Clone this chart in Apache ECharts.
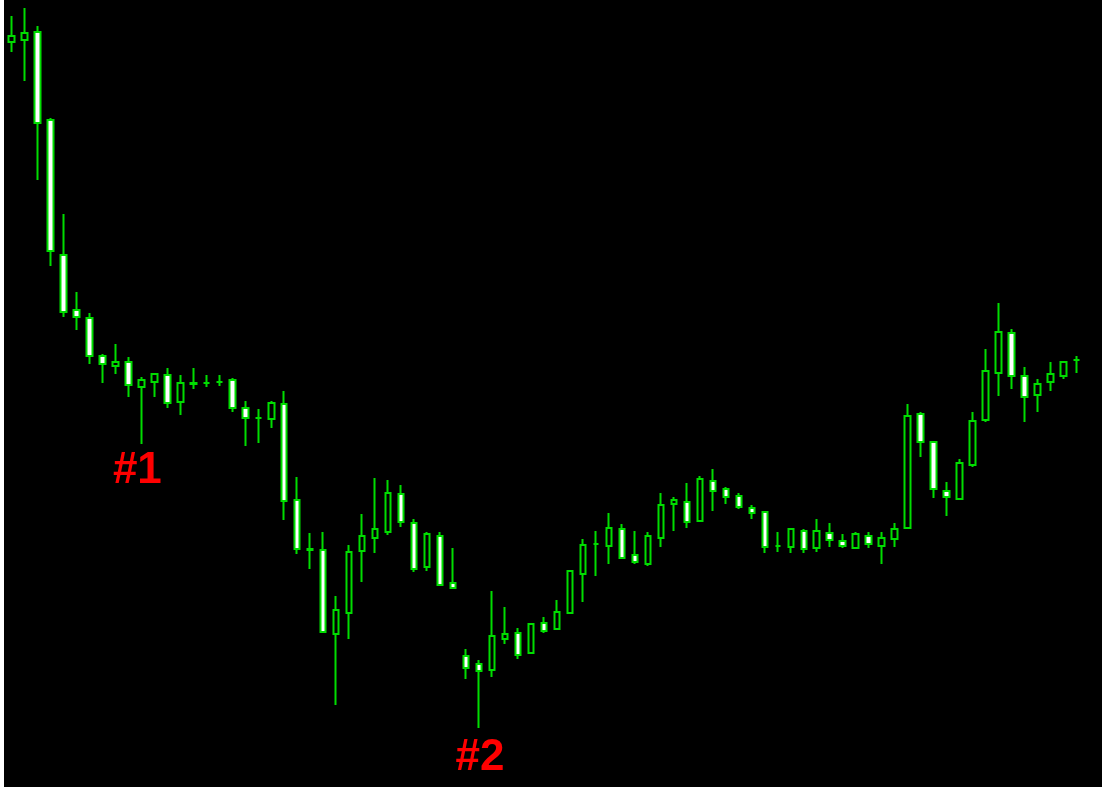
<!DOCTYPE html>
<html>
<head>
<meta charset="utf-8">
<script src="https://cdn.jsdelivr.net/npm/echarts@6/dist/echarts.min.js"></script>
<style>
  html, body { margin: 0; padding: 0; background: #ffffff; overflow: hidden; }
  #chart { position: absolute; left: 4px; top: 0; width: 1098px; height: 787px; background: #000000; }
</style>
</head>
<body>
<div id="chart"></div>
<script>
// Bar numbers (one per candle)
const bars = Array.from({length: 83}, (_, i) => String(i + 1));
// OHLC values in price points
const opens  = [745,747,755,667,532,477,469,431,421,425,400,405,412,385,404,404,405,407,379,369,368,383,287,238,237,153,174,236,249,255,293,264,220,251,204,131,123,117,148,154,134,164,158,174,213,243,241,258,232,223,249,283,285,266,306,298,291,279,275,241,240,256,239,254,246,239,251,241,248,259,373,345,296,288,322,367,414,454,411,392,405,411,427];
const closes = [751,754,664,536,475,470,431,423,425,402,407,413,384,404,403,404,405,379,369,369,384,286,238,237,155,177,235,251,258,294,265,218,253,202,199,119,116,151,153,132,163,156,175,216,242,243,259,229,225,251,282,287,265,308,296,290,280,274,240,241,258,238,256,247,241,253,243,249,258,371,345,298,290,324,366,416,455,411,390,403,413,425,427];
const lows   = [735,706,607,521,470,457,423,404,413,390,343,390,379,372,398,400,401,375,341,344,359,267,233,218,155,82,148,205,234,252,260,215,216,202,199,108,59,110,143,128,134,154,158,174,185,211,223,228,223,221,240,256,259,265,276,283,278,268,234,235,234,234,235,240,239,239,239,223,240,259,330,289,271,288,320,365,391,398,365,375,396,408,414];
const highs  = [771,779,761,669,573,495,474,433,443,430,410,414,419,412,419,412,412,409,386,378,386,396,310,254,255,191,242,273,309,307,302,268,255,255,239,138,127,196,180,159,164,170,187,216,248,256,274,263,256,255,294,290,304,311,318,300,294,282,276,255,258,258,268,264,253,255,255,255,264,383,375,346,305,328,375,438,484,458,420,408,425,426,431];
// Annotations: [label, bar index, price level]
const notes = [["#1", 10, 318], ["#2", 36, 32]];

const ohlc = bars.map((_, i) => [opens[i], closes[i], lows[i], highs[i]]);
const green = '#00dd00';

const chart = echarts.init(document.getElementById('chart'), null, {renderer: 'canvas'});
chart.setOption({
  animation: false,
  backgroundColor: '#000000',
  grid: { left: 1, top: 0, width: 1078, height: 787 },
  xAxis: { type: 'category', data: bars, show: false, boundaryGap: true },
  yAxis: { type: 'value', min: 0, max: 787, show: false, splitLine: { show: false } },
  series: [{
    type: 'candlestick',
    data: ohlc,
    barWidth: 6,
    itemStyle: {
      color: '#000000',
      color0: '#ffffff',
      borderColor: green,
      borderColor0: green,
      borderWidth: 2
    },
    markPoint: {
      symbol: 'circle',
      symbolSize: 1,
      itemStyle: { color: 'rgba(0,0,0,0)' },
      label: {
        show: true,
        position: 'inside',
        color: '#ff0000',
        fontSize: 44,
        fontWeight: 'bold',
        fontFamily: 'Liberation Sans, Arial, sans-serif'
      },
      data: notes.map(n => ({ coord: [n[1], n[2]], value: n[0], label: { formatter: n[0], offset: [n[0] === '#1' ? -4 : 1, n[0] === '#1' ? 2 : 3] } }))
    }
  }]
});
</script>
</body>
</html>
